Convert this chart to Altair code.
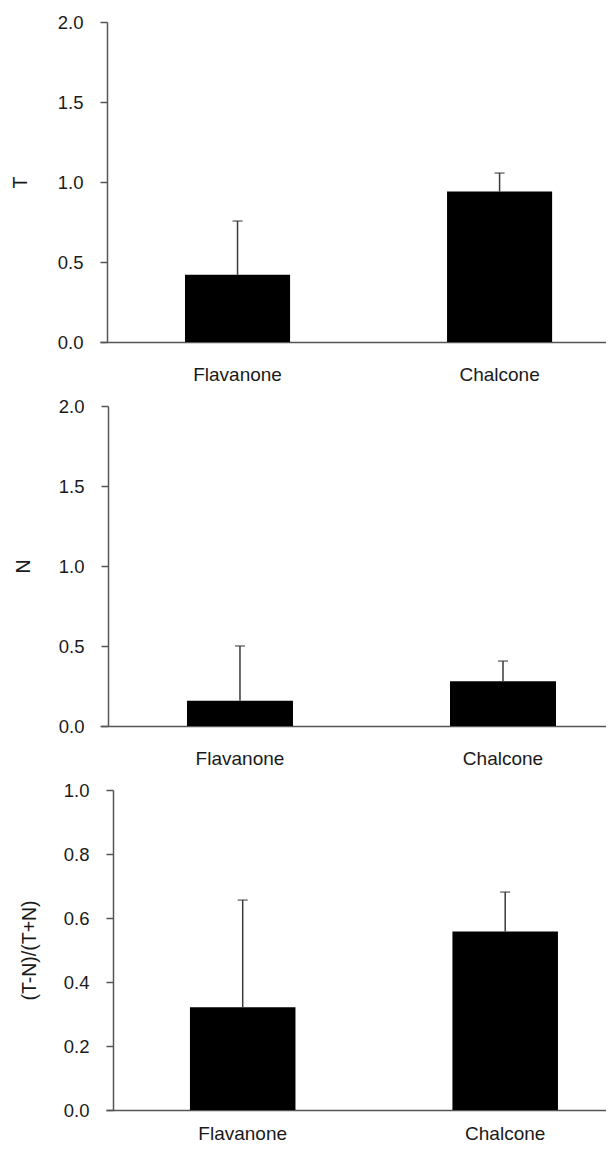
import altair as alt
import pandas as pd

categories = ["Flavanone", "Chalcone"]

t_mean = [0.42, 0.94]
t_sd = [0.336, 0.116]

n_mean = [0.158, 0.28]
n_sd = [0.342, 0.126]

r_mean = [0.321, 0.558]
r_sd = [0.335, 0.123]

t_ticks = [0.0, 0.5, 1.0, 1.5, 2.0]
n_ticks = [0.0, 0.5, 1.0, 1.5, 2.0]
r_ticks = [0.0, 0.2, 0.4, 0.6, 0.8, 1.0]

FONT = "Liberation Sans"
AX = "#555555"
TXT = "#1a1a1a"
ERR = "#3a3a3a"

W, H = 506, 320


def panel(title, mean, sd, domain, ticks, axis_offset, title_x, xrange, pi, po, al,
          label_pad=23, anchor=False):
    df = pd.DataFrame({"cat": categories, "mean": mean, "sd": sd})
    df["up"] = df["mean"] + df["sd"]
    xscale = alt.Scale(range=xrange, paddingInner=pi, paddingOuter=po, align=al)
    x = alt.X(
        "cat:N",
        sort=categories,
        scale=xscale,
        axis=alt.Axis(
            title=None, labelAngle=0, ticks=False, tickSize=0, labelPadding=label_pad,
            labelFontSize=19, labelFont=FONT, labelColor=TXT,
            domainColor=AX, domainWidth=1.5, grid=False,
        ),
    )
    y = alt.Y(
        "mean:Q",
        scale=alt.Scale(domain=domain, nice=False, zero=True),
        axis=alt.Axis(
            values=ticks, format=".1f", title=title,
            titleX=title_x, titleY=H / 2, titleAngle=-90, titleBaseline="middle",
            titleAlign="center", titleFontSize=19.5, titleFont=FONT,
            titleFontWeight="normal", titleColor=TXT,
            offset=axis_offset, tickSize=7, tickColor=AX, tickWidth=1.5,
            domainColor=AX, domainWidth=1.5, labelFontSize=18.5, labelPadding=17,
            labelFont=FONT, labelColor=TXT, grid=False,
        ),
    )
    base = alt.Chart(df)
    bars = base.mark_bar(color="black").encode(x=x, y=y)
    err = base.mark_rule(color=ERR, strokeWidth=1.5).encode(
        x=alt.X("cat:N", sort=categories), y="mean:Q", y2="up:Q"
    )
    cap = base.mark_tick(color=ERR, size=10, thickness=1.5, orient="horizontal").encode(
        x=alt.X("cat:N", sort=categories), y="up:Q"
    )
    layers = [bars, err, cap]
    if anchor:
        inv = base.mark_rule(opacity=0, strokeWidth=0).encode(
            x=alt.value(-92), x2=alt.value(-91), y=alt.value(-14)
        )
        layers.append(inv)
    return alt.layer(*layers).properties(width=W, height=H)


p1 = panel("T", t_mean, t_sd, [0, 2], t_ticks, -7, -87, [0, 506], 0.599, 0.265, 0.612, anchor=True)
p2 = panel("N", n_mean, n_sd, [0, 2], n_ticks, -8, -85, [0, 506], 0.597, 0.2604, 0.635)
p3 = panel("(T-N)/(T+N)", r_mean, r_sd, [0, 1], r_ticks, -13, -84, [6, 506], 0.598, 0.2514, 0.636,
           label_pad=14)

chart = (
    alt.vconcat(p1, p2, p3, spacing=64, bounds="flush")
    .properties(padding=0, background="white")
    .configure_view(strokeWidth=0)
)

chart.save("out.html", embed_options={"renderer": "svg", "actions": False})
